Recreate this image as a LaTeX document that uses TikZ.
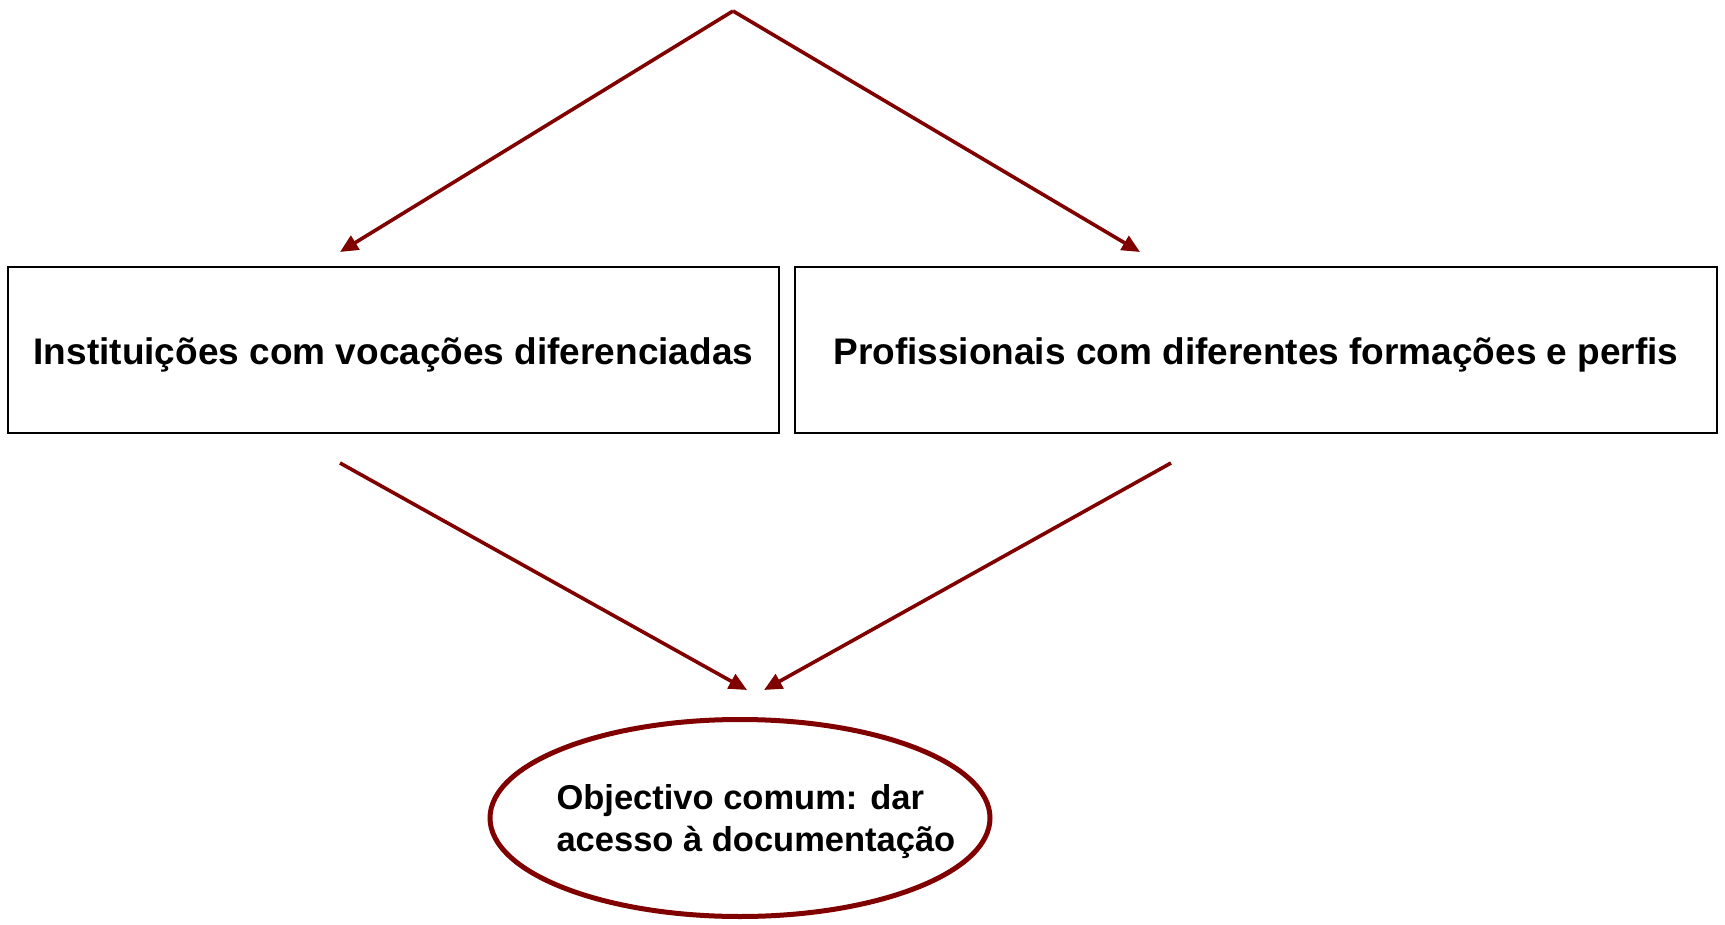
\documentclass[tikz,border=0pt]{standalone}
\usepackage{fontspec}
\setmainfont{Liberation Sans}
\usetikzlibrary{shapes.geometric,arrows.meta}
\definecolor{darkred}{HTML}{800000}
\begin{document}
\begin{tikzpicture}[x=1pt,y=-1pt,
  conn/.style={draw=darkred,line width=3.6pt,-{Triangle[length=18pt,width=16pt]}},
  box/.style={draw=black,line width=2pt,inner sep=0pt,anchor=north west},
  lbl/.style={font=\fontsize{37}{42}\selectfont\bfseries},
  glbl/.style={font=\fontsize{34.5}{42}\selectfont\bfseries}]
\useasboundingbox (0,0) rectangle (1725,925);
\coordinate (apex) at (733,11);
\node[box,minimum width=771pt,minimum height=166pt] (left) at (7,266) {};
\node[box,minimum width=922pt,minimum height=166pt] (right) at (794,266) {};
\node[lbl] (lefttext) at ([yshift=-5pt]left.center) {Instituições com vocações diferenciadas};
\node[lbl] (righttext) at ([yshift=-5pt]right.center) {Profissionais com diferentes formações e perfis};
\coordinate (lt) at (340,252);
\coordinate (rt) at (1140,252);
\draw[conn] (apex) -- (lt);
\draw[conn] (apex) -- (rt);
\coordinate (ls) at (340,463);
\coordinate (rs) at (1171,463);
\coordinate (le) at (747,690);
\coordinate (re) at (764,690);
\draw[conn] (ls) -- (le);
\draw[conn] (rs) -- (re);
\node[ellipse,draw=darkred,line width=5pt,minimum width=500pt,minimum height=197pt,inner sep=0pt] (goal) at (740,818) {};
\node[glbl,align=left,anchor=west] (goaltext) at (553,822) {Objectivo comum: dar\\acesso à documentação};
\end{tikzpicture}
\end{document}
